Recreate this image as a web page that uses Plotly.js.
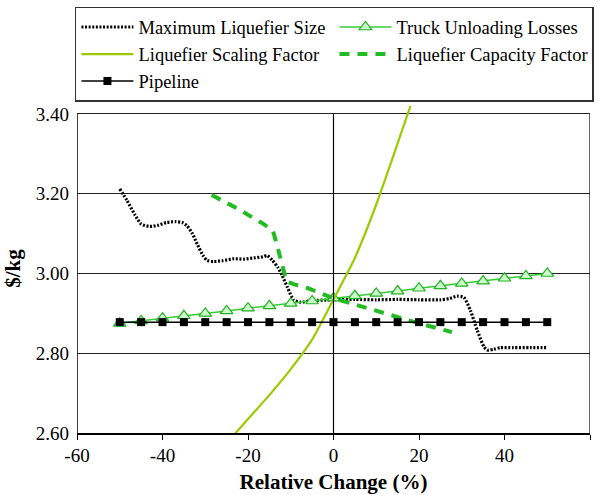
<!DOCTYPE html>
<html>
<head>
<meta charset="utf-8">
<script src="https://cdn.plot.ly/plotly-3.0.1.min.js"></script>
<style>html,body{margin:0;padding:0;background:#fff;}#chart{width:598px;height:495px;}</style>
</head>
<body>
<div id="chart"></div>
<script>
// Sensitivity x positions (relative change, %)
var stepX = [-50,-45,-40,-35,-30,-25,-20,-15,-10,-5,0,5,10,15,20,25,30,35,40,45,50];
var pipelineY = [2.878,2.878,2.878,2.878,2.878,2.878,2.878,2.878,2.878,2.878,2.878,2.878,2.878,2.878,2.878,2.878,2.878,2.878,2.878,2.878,2.878];
var truckY = [2.875,2.881,2.888,2.894,2.900,2.906,2.913,2.919,2.925,2.931,2.938,2.944,2.950,2.956,2.963,2.969,2.975,2.981,2.988,2.994,3.000];

var maxLiqX = [-50,-48.3,-46.5,-45,-43,-41,-39,-37,-35.4,-34.3,-33,-31.9,-30.5,-29.6,-28,-26,-23.3,-21,-18.6,-16.5,-15.5,-14.3,-13,-12,-10.8,-9.3,-7.7,-5,0,5,10,15,20,25,27,28.9,30.5,32,33.6,35.2,36,37.5,39,42,46,50];
var maxLiqY = [3.212,3.183,3.148,3.124,3.118,3.121,3.128,3.130,3.128,3.120,3.100,3.074,3.045,3.033,3.030,3.032,3.037,3.036,3.039,3.042,3.045,3.033,3.015,2.995,2.966,2.933,2.928,2.932,2.934,2.935,2.934,2.935,2.934,2.934,2.937,2.943,2.940,2.908,2.858,2.816,2.808,2.810,2.814,2.814,2.814,2.814];

var scaleX = [-23.3,-20,-15,-10,-5,0,5,10,15,18];
var scaleY = [2.595,2.635,2.695,2.760,2.834,2.935,3.039,3.173,3.326,3.420];

var capX = [-28.5,-22,-16.5,-14.2,-13.3,-12.6,-11.8,-11,-9,-6,0,5,10,15,20,27.7];
var capY = [3.197,3.160,3.125,3.108,3.075,3.045,3.005,2.980,2.972,2.963,2.938,2.922,2.907,2.891,2.875,2.853];

var xTicks = [-60,-40,-20,0,20,40,60];
var xTickText = ['-60','-40','-20','0','20','40','60'];
var yTicks = [2.6,2.8,3.0,3.2,3.4];
var yTickText = ['2.60','2.80','3.00','3.20','3.40'];

var font = 'Liberation Serif';

var traces = [
  {name:'Maximum Liquefier Size', x:maxLiqX, y:maxLiqY, mode:'lines',
   line:{color:'#000', width:3.2, dash:'2px,1.6px', shape:'spline', smoothing:0.6}},
  {name:'Truck Unloading Losses', x:stepX, y:truckY, mode:'lines+markers',
   line:{color:'#33cc33', width:1.5},
   marker:{symbol:'triangle-up', size:11, color:'#ccffcc', line:{color:'#22b022', width:1.2}}},
  {name:'Liquefier Scaling Factor', x:scaleX, y:scaleY, mode:'lines',
   line:{color:'#99cc00', width:2.2, shape:'spline', smoothing:0.5}},
  {name:'Liquefier Capacity Factor', x:capX, y:capY, mode:'lines',
   line:{color:'#22bb22', width:4, dash:'10px,8px'}},
  {name:'Pipeline', x:stepX, y:pipelineY, mode:'lines+markers',
   line:{color:'#000', width:1.5},
   marker:{symbol:'square', size:8, color:'#000'}}
];

var layout = {
  width:598, height:495,
  margin:{l:77, r:8, t:103, b:62},
  paper_bgcolor:'#fff', plot_bgcolor:'#fff',
  font:{family:font, color:'#000', size:18},
  showlegend:true,
  legend:{orientation:'h', x:-0.004, xanchor:'left', y:1.291, yanchor:'top',
    entrywidth:191, entrywidthmode:'pixels', itemwidth:52,
    bordercolor:'#333', borderwidth:1.5, bgcolor:'#fff',
    font:{family:font, size:18.5, color:'#000'}},
  xaxis:{range:[-60,60], tickvals:xTicks, ticktext:xTickText, ticks:'outside', ticklen:5, tickcolor:'#000', tickwidth:1,
    showline:true, linecolor:'#000', linewidth:1.5, showgrid:false, zeroline:false,
    tickfont:{family:font, size:19}, 
    title:{text:'<b>Relative Change (%)</b>', font:{family:font, size:21}, standoff:9}},
  yaxis:{range:[2.6,3.425], tickvals:yTicks, ticktext:yTickText, ticks:'', showline:false,
    showgrid:true, gridcolor:'#222', gridwidth:1, zeroline:false, ticklabelstandoff:7,
    tickfont:{family:font, size:19},
    title:{text:'<b>$/kg</b>', font:{family:font, size:21}, standoff:9}},
  shapes:[
    {type:'line', xref:'x', yref:'y', x0:-60, x1:-60, y0:2.6, y1:3.4, line:{color:'#000', width:1.5}},
    {type:'line', xref:'x', yref:'y', x0:0, x1:0, y0:2.6, y1:3.4, line:{color:'#000', width:1.2}},
    {type:'line', xref:'x', yref:'y', x0:60, x1:60, y0:2.6, y1:3.4, line:{color:'#000', width:1.2}}
  ]
};

Plotly.newPlot('chart', traces, layout, {displayModeBar:false, staticPlot:true});
</script>
</body>
</html>
